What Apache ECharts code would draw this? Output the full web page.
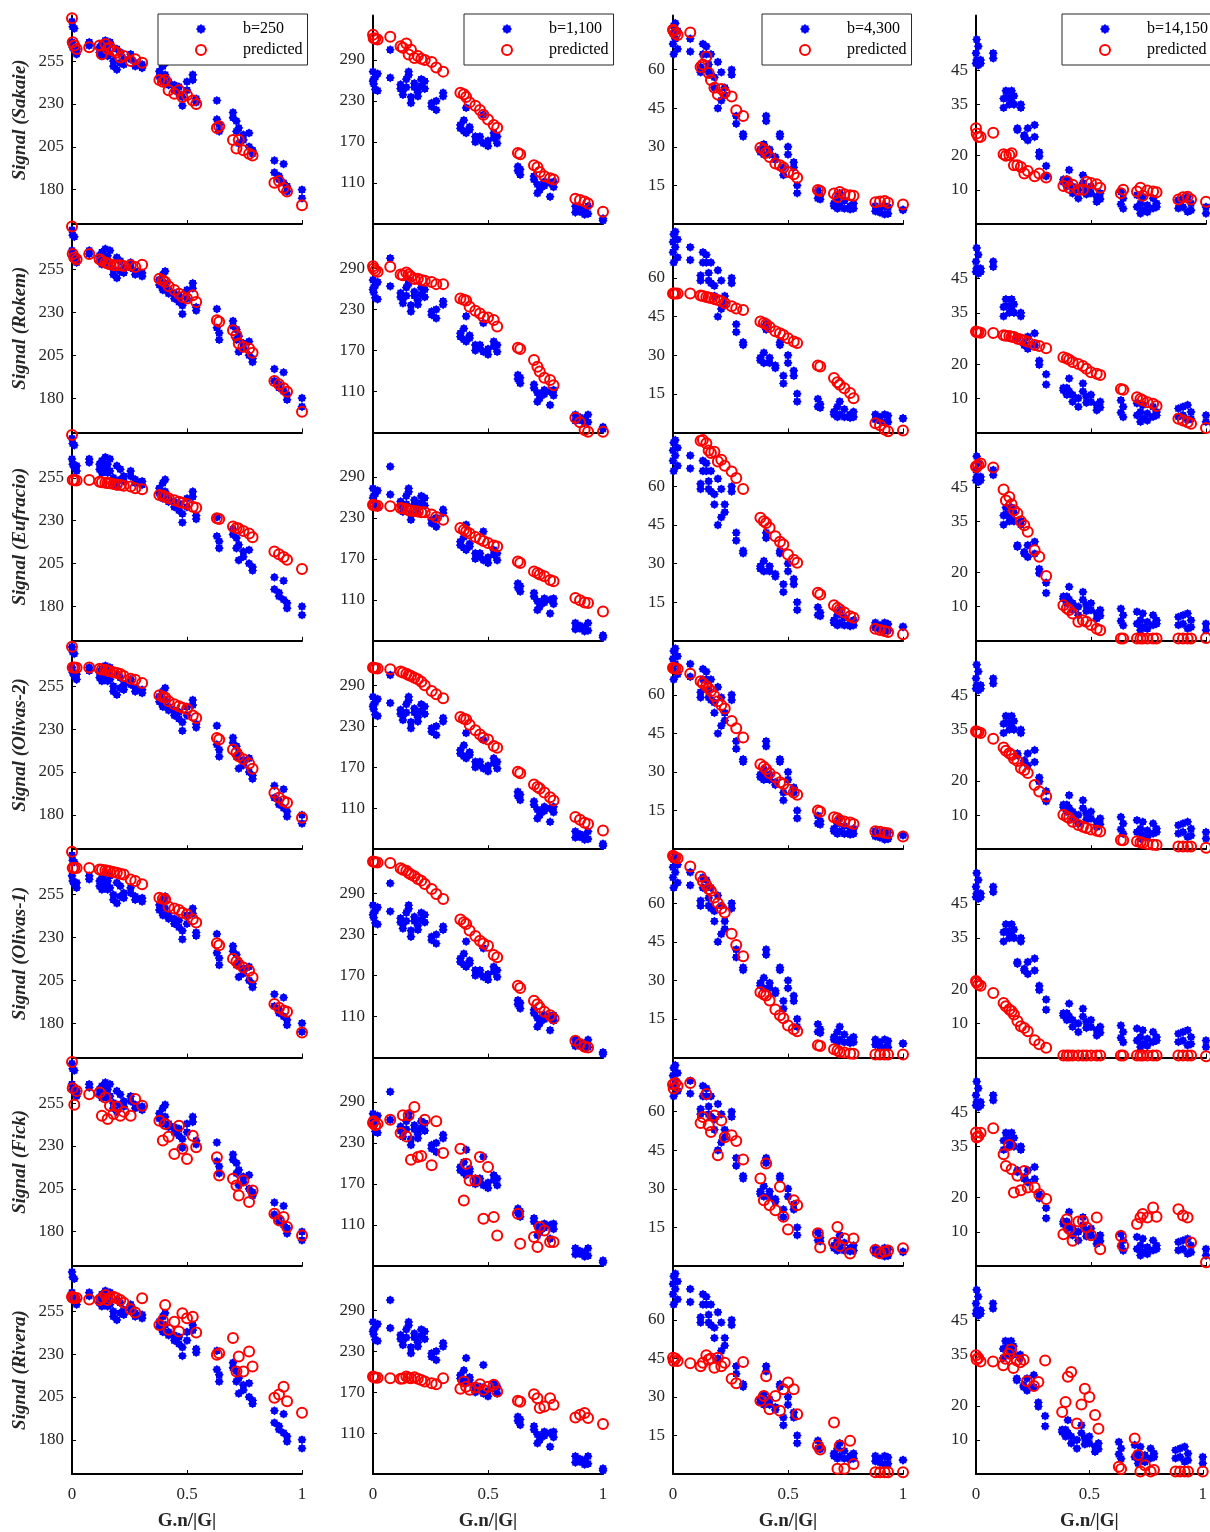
<!DOCTYPE html>
<html>
<head>
<meta charset="utf-8">
<script src="https://cdn.jsdelivr.net/npm/echarts@6/dist/echarts.min.js"></script>
<style>
  html, body { margin: 0; padding: 0; background: #fff; }
  #main { width: 1210px; height: 1532px; }
</style>
</head>
<body>
<div id="main"></div>
<script>
// gradient direction positions (G.n/|G|), shared by every panel
var X = [0, 0.003, 0.01, 0.02, 0.075, 0.12, 0.13, 0.145, 0.155, 0.165, 0.18, 0.195, 0.21, 0.225, 0.255, 0.275, 0.305,
  0.38, 0.395, 0.405, 0.42, 0.445, 0.465, 0.48, 0.5, 0.525, 0.54, 0.63, 0.64, 0.7, 0.715, 0.725, 0.745, 0.77, 0.785,
  0.88, 0.9, 0.92, 0.935, 1];

var bLabels = ['b=250', 'b=1,100', 'b=4,300', 'b=14,150'];
var models = ['Sakaie', 'Rokem', 'Eufracio', 'Olivas-2', 'Olivas-1', 'Fick', 'Rivera'];

// measured signal (two repeats per direction), same in every row of a column
var blue250a = [278, 275, 274, 262, 266, 260, 265, 267, 263, 266, 252, 262, 260, 256, 259, 252, 253, 249, 252, 254, 243, 241, 240, 229, 243, 247, 233, 232, 214, 225, 220, 216, 212, 213, 203, 197, 186, 195, 182, 180];
var blue250b = [266, 263, 261, 259, 264, 263, 258, 261, 258, 259, 255, 250, 254, 253, 256, 254, 251, 246, 243, 247, 241, 238, 236, 234, 238, 244, 231, 221, 218, 222, 214, 207, 209, 205, 201, 190, 188, 184, 179, 175];
var blue1100a = [273, 262, 247, 270, 305, 254, 239, 262, 273, 227, 256, 237, 262, 259, 227, 217, 242, 195, 202, 220, 192, 178, 173, 210, 164, 183, 178, 134, 122, 120, 95, 105, 112, 90, 112, 76, 72, 64, 76, 55];
var blue1100b = [259, 255, 265, 245, 264, 248, 245, 250, 268, 236, 250, 243, 252, 248, 222, 230, 237, 190, 186, 183, 188, 170, 178, 168, 172, 176, 168, 128, 130, 115, 108, 100, 106, 110, 104, 67, 68, 70, 65, 58];
var blue4300a = [74, 77, 78, 75, 72, 59, 70, 66, 59, 66, 53, 63, 59, 53, 60, 39, 35, 28, 27, 42, 29, 26, 35, 22, 30, 22, 15, 13, 11, 7, 10, 12, 6, 5.7, 8, 5, 4.5, 3.8, 4, 5.4];
var blue4300b = [70, 66, 72, 68, 67, 61, 66, 69, 62, 58, 57, 45, 48, 50, 58, 42, 34, 29, 31, 40, 27, 25, 34, 19, 27, 24, 12, 10, 9.6, 8, 6, 7, 9, 7, 6, 7, 6, 7, 6.5, 5.5];
var blue14150a = [50, 54, 52, 48, 50, 34, 39, 37, 39, 35, 28, 35, 26, 28, 29, 21, 17, 12.3, 11, 15.8, 9, 7.5, 14.3, 8.7, 11, 8, 7.3, 9.4, 7.5, 5, 3.1, 8, 3.5, 4.6, 5, 4.6, 5, 3.6, 4, 3.1];
var blue14150b = [47, 48, 46.5, 47, 48.5, 36.7, 37, 35, 36, 37.5, 27.5, 34, 25.5, 24.5, 25.5, 19.8, 14, 13, 13, 12, 11, 10, 12, 10.5, 9, 6.5, 9, 5.8, 4.5, 8.5, 6, 4, 5.5, 7.5, 6, 7, 7.5, 8, 6, 5];

// predicted signal per model: [b=250, b=1100, b=4300, b=14150]
var sakaie = [
  [280, 266, 264, 262, 263, 264, 259, 265, 262, 263, 261, 260, 257, 258, 255, 256, 254, 244, 243, 244, 238, 236, 238, 234, 235, 232, 230, 216, 217, 209, 204, 209, 203, 201, 200, 184, 185, 181, 179, 171],
  [327, 322, 321, 320, 324, 310, 308, 314, 298, 305, 293, 296, 292, 290, 287, 279, 273, 242, 240, 236, 228, 223, 217, 210, 203, 195, 191, 154, 152, 136, 133, 126, 120, 117, 115, 87, 85, 83, 80, 68],
  [75.5, 75, 74, 73.5, 74.4, 61, 62, 65, 58.7, 56, 53, 50.3, 52.5, 51, 49.6, 44.2, 42, 29.6, 29, 27.7, 26, 23.5, 22.8, 22, 20.2, 19.3, 18, 13.2, 12.8, 11.9, 10.5, 12.4, 11.6, 11.2, 11, 8.5, 8.7, 8.9, 8.3, 7.6],
  [28, 26.5, 25.5, 25.5, 26.7, 20.4, 20, 20.2, 20.7, 17.2, 17.2, 16.7, 14.8, 15.5, 14, 14.8, 13.6, 11.1, 12.5, 10.6, 11.5, 10, 10, 12.4, 12, 11.6, 10.6, 9, 10, 9.5, 10.6, 8.3, 9.8, 9.5, 9.3, 7.2, 7.8, 8, 7.2, 6.5]
];
var rokem = [
  [280, 264, 262, 261, 264, 261, 260, 259, 258.5, 258, 257.4, 257.4, 257.4, 257, 257.4, 256.4, 257.7, 249.6, 248.5, 247.7, 245.2, 243, 240.9, 239, 238, 240, 236, 225.4, 224.5, 219.6, 216.7, 211.8, 210, 208.9, 206.4, 190, 188, 185.7, 183.7, 172],
  [293, 290, 287, 285, 292.6, 281, 280, 284, 281, 278, 274.6, 275, 273, 272, 270, 267, 267, 246, 244, 243, 234, 228, 224, 219, 218, 214.5, 205, 174, 172, 156, 146, 139, 130, 126.7, 119, 71.5, 65, 53.5, 51, 51],
  [54, 54, 54, 54, 54, 53.2, 53, 52.6, 52.4, 52.2, 51.8, 51.5, 51, 50.2, 49, 48.2, 47.6, 43.1, 42.5, 42, 41, 39.3, 38.5, 37.9, 36.6, 35.3, 34.7, 26, 25.6, 21.1, 19.5, 18.5, 17.2, 15.3, 13.3, 3.6, 2.8, 1.1, 0.4, 0.7],
  [29.5, 29.3, 29.3, 29.2, 29.1, 28.4, 28.3, 28.2, 28, 27.9, 27.4, 27.2, 26.9, 26.5, 25.6, 25.3, 24.6, 22, 21.6, 21.3, 20.6, 20, 19.4, 18.6, 17.6, 17.2, 16.8, 12.7, 12.5, 10.3, 9.8, 9.4, 8.8, 8.4, 7.7, 4, 3.5, 3, 2.5, 1.3]
];
var eufracio = [
  [280, 253.7, 253.6, 253.5, 253.7, 252.7, 252.4, 252.2, 252, 251.8, 251.4, 251, 250.8, 250.4, 250, 249, 248.3, 245, 244.5, 244, 243.1, 242, 241.1, 240.5, 239.8, 238.2, 237.6, 231.5, 231, 226.6, 225.8, 225.4, 224, 222.5, 220.4, 212, 210.5, 208.8, 207.2, 201.8],
  [249, 248.5, 248, 247.5, 246.8, 244.4, 243.5, 243, 241, 240.5, 239.8, 239.4, 238.3, 238, 235, 231.2, 227.3, 215, 212, 210, 207, 202, 199, 196, 193, 189.5, 188, 166, 164, 151.6, 149.2, 147, 144.3, 139, 137, 112.6, 109.5, 106.2, 105.3, 93],
  [92, 92, 91, 90, 86, 77.8, 78, 76.8, 74, 73, 73.5, 69.7, 70.4, 68, 65.8, 63.3, 59, 47.8, 46.5, 45.8, 43.9, 40.6, 38.5, 37.4, 33.5, 31.5, 30.3, 18.7, 18, 13.8, 12.8, 12.2, 11, 9.5, 9, 4.7, 4.2, 3.8, 3.4, 2.5],
  [51, 50.9, 51.5, 51.9, 50.7, 44.3, 41.1, 42.1, 40, 38.2, 37.3, 35, 33.8, 31.9, 26.5, 24.6, 19, 10.4, 9.5, 9, 8, 5.6, 6, 5.6, 4.6, 3.5, 3.1, 0.7, 0.7, 0.7, 0.7, 0.7, 0.7, 0.7, 0.7, 0.7, 0.7, 0.7, 0.7, 0.8]
];
var olivas2 = [
  [278, 266, 266, 265.8, 266, 265.2, 264.8, 264.6, 264, 263.7, 263.2, 262.7, 262.1, 261, 259.4, 258.8, 256.9, 249.7, 248.8, 248.5, 246.2, 244.5, 243.3, 242.5, 241.7, 238, 236.5, 224.9, 224, 218.1, 216.2, 214.2, 212.5, 210, 206.9, 192.9, 190, 188, 187.1, 178.4],
  [316, 315.7, 315, 314.5, 313.2, 310, 308.5, 306.9, 305, 303.6, 301, 298.6, 295.2, 290, 281.6, 276.6, 270.8, 243.5, 241, 240, 232, 224, 218, 213, 210.7, 201, 198.6, 163.4, 161, 144.8, 141, 139, 133, 126, 121.4, 97, 93, 88.8, 87, 77.5],
  [70.5, 70.3, 70.2, 70, 68.2, 65.3, 64.5, 63.4, 62.5, 61.5, 59.5, 57.5, 56, 54.7, 49.8, 47, 43.4, 33, 32, 31.1, 29.5, 27.9, 26, 25.3, 23.3, 22, 21.2, 15, 14.6, 12.4, 12, 11.3, 10.8, 10.4, 9.8, 7, 6.8, 6.4, 6.2, 4.9],
  [34.5, 34.3, 34.2, 34, 32.3, 29.8, 28.8, 28.1, 27.6, 26.5, 25.8, 23.8, 23.2, 22.3, 18.8, 16.9, 15.4, 10.1, 9.5, 9.1, 8, 7.1, 6.6, 6.2, 5.8, 5.4, 5.2, 2.7, 2.6, 2.3, 2, 1.8, 1.5, 1.3, 1.2, 0.8, 0.8, 0.8, 0.8, 0.4]
];
var olivas1 = [
  [280, 270.6, 270.6, 270.5, 270.6, 269.7, 269.5, 269.3, 269, 268.7, 268.2, 267.7, 267.2, 266.8, 263.9, 262.9, 261, 253.2, 252.6, 252.3, 248, 247, 246, 244.5, 243.5, 240.6, 238.7, 226.7, 225.5, 217.7, 216, 214.5, 212.5, 210.6, 206.7, 191.2, 189, 187.5, 186.7, 174.7],
  [337, 336.8, 336, 335.5, 334.9, 327, 325, 323.6, 320.2, 318, 315.3, 311.5, 309, 304, 296.8, 289.5, 282.2, 252, 248, 245.6, 236, 228, 221, 217, 213.8, 200, 196.7, 155.2, 152, 133.3, 128, 123.5, 117.2, 112, 107.4, 74.7, 70, 66, 64.9, 45],
  [78.5, 78, 77.8, 77.5, 74.3, 70.4, 68.5, 67, 65.5, 64.8, 62.2, 60, 58, 56.4, 48.1, 43.8, 39.4, 25.4, 24.5, 24.1, 22.2, 18.7, 16.5, 15.3, 12.5, 11, 10.2, 4.8, 4.5, 3.2, 2.8, 2.2, 2, 1.6, 1.5, 1.2, 1.2, 1.2, 1.2, 1.2],
  [22.4, 22, 21.4, 21, 18.9, 16, 15, 14.1, 13.6, 12.6, 10.7, 9.2, 8.7, 7.7, 5.1, 3.9, 2.9, 0.6, 0.6, 0.6, 0.6, 0.6, 0.6, 0.6, 0.6, 0.6, 0.6, 0.6, 0.6, 0.6, 0.6, 0.6, 0.6, 0.6, 0.6, 0.6, 0.6, 0.6, 0.6, 0.4]
];
var fick = [
  [279, 263.7, 254, 262, 260.2, 261.2, 247.6, 258.3, 245.7, 253.4, 248.6, 253, 247.6, 250, 247.6, 257.3, 253.4, 244.7, 233.1, 242.8, 235.4, 225.3, 241.8, 228.3, 222.4, 236, 229.2, 223.4, 212.7, 210.8, 206.9, 201.1, 209.8, 197.3, 204, 190.5, 186.6, 188.5, 182.7, 177.8],
  [259.3, 262, 256, 258, 264.2, 244.7, 270.5, 239.7, 270.5, 205.6, 282.8, 209.6, 211, 264.2, 197.3, 262, 215.4, 221.7, 146, 199.7, 175.3, 175.3, 209.6, 119.2, 194.9, 121.7, 94.8, 126.5, 82.6, 92.4, 77.8, 107.1, 102.1, 85.1, 85, 40, 40, 40, 40, 40],
  [70.5, 69, 71.1, 70, 71.1, 55.6, 57.9, 66.9, 54.7, 52.1, 58.5, 43, 56.6, 50, 50.8, 48.6, 41.4, 34, 25.6, 39.8, 23.6, 21.7, 30.8, 19.1, 14.2, 25.6, 23.6, 12.7, 7.2, 9, 15.2, 7.8, 10.7, 4.9, 10.7, 6.2, 5, 5.6, 6, 6.9],
  [39.1, 37.6, 38, 39, 40.3, 32.7, 29.3, 35.4, 28.3, 21.5, 26.4, 22.2, 27.8, 23, 23, 21, 19.6, 9.3, 13.7, 10.8, 7.4, 13, 13.2, 11.3, 9, 14.2, 4.9, 8.8, 5.9, 12.3, 14.2, 15.2, 14.2, 17.1, 14.4, 16.6, 14.8, 14.2, 6.9, 1.1]
];
var rivera = [
  [263.5, 263, 262.6, 262.8, 262, 261.6, 262.6, 264.5, 261.6, 263, 263.5, 262.6, 261.6, 260, 256.2, 254.3, 262.6, 247.1, 249.6, 258.7, 244.2, 249, 243.2, 253.9, 251, 251.9, 242.6, 229.7, 230.5, 239.4, 219.9, 228.7, 219.9, 231.6, 222.8, 204.5, 206.4, 210.9, 202.5, 195.8],
  [193, 192, 191.5, 191, 190.5, 189.6, 190, 193, 191, 190.5, 192, 189.6, 188, 185.7, 183, 181.7, 190.5, 175, 185.7, 178, 173.5, 176.9, 181.7, 173.5, 178, 180.8, 171, 157.4, 156, 167.1, 161.2, 146.6, 149.1, 161.2, 151.6, 133, 137, 139.3, 132, 123.2],
  [45.3, 44, 45, 44, 43.1, 42, 43.3, 46.2, 44.6, 45, 41.4, 45.3, 42, 43.3, 37.1, 35.3, 43.6, 28.5, 30.4, 38.1, 25.2, 30.4, 24.6, 33, 35.6, 33, 23.3, 11, 9.5, 20.1, 2, 11, 2, 12.9, 3.9, 0.7, 0.7, 0.7, 0.7, 0.7],
  [34.8, 33.6, 34, 33, 33, 31.9, 33.8, 35.3, 36.5, 31.1, 33.3, 32.8, 33.5, 27.2, 25.8, 27, 33.3, 18.2, 21.1, 28.5, 29.9, 14.8, 20.4, 25, 22.6, 17.3, 13.3, 2.1, 1.5, 10.4, 5.6, 0.7, 2.6, 0.7, 1.2, 0.7, 0.7, 0.7, 0.7, 0.7]
];

// y axis ticks per column
var yTicks = [[180, 205, 230, 255], [110, 170, 230, 290], [15, 30, 45, 60], [10, 20, 35, 45]];

var blueA = [blue250a, blue1100a, blue4300a, blue14150a];
var blueB = [blue250b, blue1100b, blue4300b, blue14150b];
var predicted = [sakaie, rokem, eufracio, olivas2, olivas1, fick, rivera];

var yMin = [160, 50, 0, 0];
var yMax = [281.5, 355, 81, 61];
var colLeft = [72, 373, 673, 976];
var legLeft = [158, 464, 762, 1062];
var rowH = 208.4;
var FONT = '"Liberation Serif", "Times New Roman", serif';
// bold asterisk-like blob
var STAR = 'path://M0,-10L3,-7.2L7.07,-7.07L7.2,-3L10,0L7.2,3L7.07,7.07L3,7.2L0,10L-3,7.2L-7.07,7.07L-7.2,3L-10,0L-7.2,-3L-7.07,-7.07L-3,-7.2Z';

var grids = [], xAxes = [], yAxes = [], series = [], legends = [];

for (var r = 0; r < models.length; r++) {
  for (var c = 0; c < 4; c++) {
    var idx = r * 4 + c;
    grids.push({ left: colLeft[c], top: 15.6 + r * rowH, width: 230, height: rowH });
    xAxes.push({
      gridIndex: idx, type: 'value', min: 0, max: 1, interval: 0.5,
      axisLine: { show: true, onZero: false, lineStyle: { color: '#000', width: 2 } },
      axisTick: { show: true, inside: true, length: 4, lineStyle: { color: '#000' } },
      axisLabel: { show: r === models.length - 1, fontFamily: FONT, fontSize: 17, color: '#262626', margin: 12 },
      splitLine: { show: false },
      name: r === models.length - 1 ? 'G.n/|G|' : '',
      nameLocation: 'middle', nameGap: 38,
      nameTextStyle: { fontFamily: FONT, fontSize: 19, fontWeight: 'bold', color: '#262626' }
    });
    yAxes.push({
      gridIndex: idx, type: 'value', min: yMin[c], max: yMax[c],
      axisLine: { show: true, onZero: false, lineStyle: { color: '#000', width: 2 } },
      axisTick: { show: true, inside: true, length: 4, customValues: yTicks[c], lineStyle: { color: '#000' } },
      axisLabel: { show: true, customValues: yTicks[c], fontFamily: FONT, fontSize: 17, color: '#262626', margin: 8 },
      splitLine: { show: false },
      name: c === 0 ? 'Signal (' + models[r] + ')' : '',
      nameLocation: 'middle', nameGap: 42,
      nameTextStyle: { fontFamily: FONT, fontSize: 19, fontWeight: 'bold', fontStyle: 'italic', color: '#262626' }
    });

    var bData = [];
    for (var i = 0; i < X.length; i++) {
      bData.push([X[i], blueA[c][i]]);
      bData.push([X[i], blueB[c][i]]);
    }
    series.push({
      type: 'scatter', name: bLabels[c], xAxisIndex: idx, yAxisIndex: idx,
      symbol: STAR, symbolSize: 9, itemStyle: { color: '#0000ff', opacity: 1 },
      data: bData, z: 2
    });
    series.push({
      type: 'scatter', name: 'predicted', xAxisIndex: idx, yAxisIndex: idx,
      symbol: 'circle', symbolSize: 10,
      itemStyle: { color: 'rgba(0,0,0,0)', borderColor: '#ff0000', borderWidth: 2, opacity: 1 },
      data: X.map(function (x, i) { return [x, predicted[this.r][this.c][i]]; }, { r: r, c: c }),
      z: 3
    });
  }
}

for (var c2 = 0; c2 < 4; c2++) {
  legends.push({
    data: [bLabels[c2], 'predicted'],
    left: legLeft[c2], top: 14, orient: 'vertical',
    itemWidth: 74, itemHeight: 10, itemGap: 3,
    padding: [6, 5, 6, 37],
    borderColor: '#262626', borderWidth: 1, backgroundColor: '#fff',
    selectedMode: false,
    textStyle: { fontFamily: FONT, fontSize: 16, color: '#000', lineHeight: 18 }
  });
}

var myChart = echarts.init(document.getElementById('main'), null, { renderer: 'canvas' });
var option = {
  animation: false,
  backgroundColor: '#fff',
  legend: legends,
  grid: grids,
  xAxis: xAxes,
  yAxis: yAxes,
  series: series
};
myChart.setOption(option);
</script>
</body>
</html>
